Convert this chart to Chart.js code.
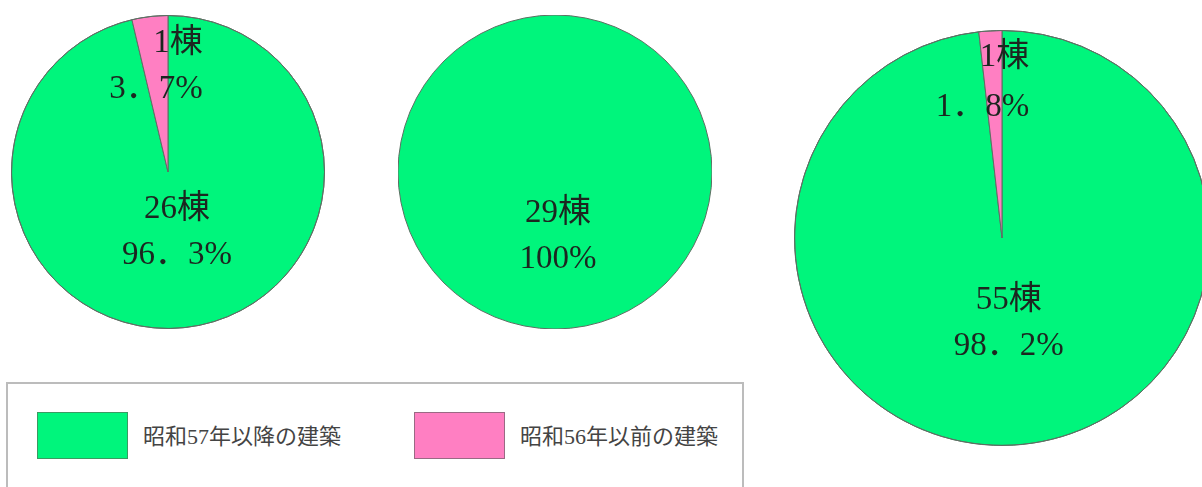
<!DOCTYPE html>
<html lang="ja">
<head>
<meta charset="utf-8">
<script src="https://cdn.jsdelivr.net/npm/chart.js@4/dist/chart.umd.min.js"></script>
<style>
  body {
    margin: 0;
    width: 1202px;
    height: 487px;
    overflow: hidden;
    background: #fff;
    position: relative;
    font-family: "Liberation Serif", "Noto Sans CJK JP", serif;
  }
  .pie { position: absolute; }
  #legendBox {
    position: absolute;
    left: 6px;
    top: 382px;
    width: 738px;
    height: 130px;
    border: 2px solid #bcbcbc;
    box-sizing: border-box;
  }
  .swatch { position: absolute; width: 91px; height: 47px; box-sizing: border-box; }
  .legendText { position: absolute; font-size: 22px; line-height: 24px; color: #444; white-space: nowrap; }
</style>
</head>
<body>

<div class="pie" style="left:11px;top:15px;width:314px;height:314px"><canvas id="pieA"></canvas></div>
<div class="pie" style="left:398px;top:15px;width:314px;height:314px"><canvas id="pieB"></canvas></div>
<div class="pie" style="left:794px;top:30px;width:416px;height:416px"><canvas id="pieC"></canvas></div>

<div id="legendBox"></div>
<div id="legendItems"></div>

<script>
// 建築年の区分
const categories = ["昭和57年以降の建築", "昭和56年以前の建築"];

// 棟数（左・中・右）
const countsA = [26, 1];
const countsB = [29, 0];
const countsC = [55, 1];

const sliceColors = ["#00f57c", "#ff7fc2"];
const swatchBorders = ["#3b9a62", "#9a6a84"];
const edgeColor = "#5d6f63";

const sum = (arr) => arr.reduce((a, b) => a + b, 0);

// 円の外周線と、各扇形の中の「○棟」「○%」
const sliceLabels = {
    id: "sliceLabels",
    afterDatasetsDraw(chart, args, opts) {
        const ctx = chart.ctx;
        const meta = chart.getDatasetMeta(0);
        const values = chart.data.datasets[0].data;
        const total = sum(values);
        ctx.save();

        // 100%の円は扇形の線を引かないので外周だけ描く
        const first = meta.data[0].getProps(["x", "y", "outerRadius"], true);
        ctx.strokeStyle = edgeColor;
        ctx.lineWidth = 1;
        ctx.beginPath();
        ctx.arc(first.x, first.y, first.outerRadius, 0, Math.PI * 2);
        ctx.stroke();

        ctx.font = '33px "Liberation Serif", "Noto Sans CJK JP", serif';
        ctx.fillStyle = "#1c2620";
        ctx.textBaseline = "middle";
        meta.data.forEach((arc, i) => {
            if (!values[i]) return;
            const p = arc.getProps(["x", "y", "startAngle", "endAngle", "outerRadius"], true);
            const mid = (p.startAngle + p.endAngle) / 2;
            const d = p.outerRadius * opts.dist[i];
            const x = p.x + Math.cos(mid) * d + (opts.shift[i] || 0);
            const y = p.y + Math.sin(mid) * d;
            const gap = opts.gap[i] || 23;
            let pct = values[i] === total ? "100" : (values[i] / total * 100).toFixed(1).replace(".", "．");
            ctx.textAlign = opts.align[i];
            ctx.fillText(values[i] + "棟", x, y - gap);
            ctx.fillText(pct + "%", x, y + gap);
        });
        ctx.restore();
    }
};

function makePie(id, counts, labelOpts) {
    let ctx = document.getElementById(id).getContext("2d");
    return new Chart(ctx, {
        type: "pie",
        data: {
            labels: categories,
            datasets: [{
                data: counts,
                backgroundColor: sliceColors,
                borderColor: edgeColor,
                // 0棟や100%の区分には境界線を引かない
                borderWidth: (c) => (c.raw && c.raw < sum(c.dataset.data) ? 1 : 0),
                hoverOffset: 0,
            }],
        },
        options: {
            responsive: true,
            maintainAspectRatio: false,
            animation: false,
            events: [],
            plugins: {
                legend: { display: false },
                tooltip: { enabled: false },
                sliceLabels: labelOpts,
            },
        },
        plugins: [sliceLabels],
    });
}

makePie("pieA", countsA, { dist: [0.385, 0.68], align: ["center", "right"], shift: [2, 47], gap: [23, 23] });
makePie("pieB", countsB, { dist: [0.41, 0], align: ["center", "center"], shift: [3, 0], gap: [23, 23] });
makePie("pieC", countsC, { dist: [0.41, 0.75], align: ["center", "right"], shift: [2, 36], gap: [23, 25] });

// 凡例
const legendLeft = [37, 414];
let items = document.getElementById("legendItems");
categories.forEach((name, i) => {
    let sw = document.createElement("div");
    sw.className = "swatch";
    sw.style.left = legendLeft[i] + "px";
    sw.style.top = "412px";
    sw.style.background = sliceColors[i];
    sw.style.border = "1px solid " + swatchBorders[i];
    items.appendChild(sw);

    let tx = document.createElement("div");
    tx.className = "legendText";
    tx.style.left = (legendLeft[i] + 106) + "px";
    tx.style.top = "425px";
    tx.textContent = name;
    items.appendChild(tx);
});
</script>
</body>
</html>
